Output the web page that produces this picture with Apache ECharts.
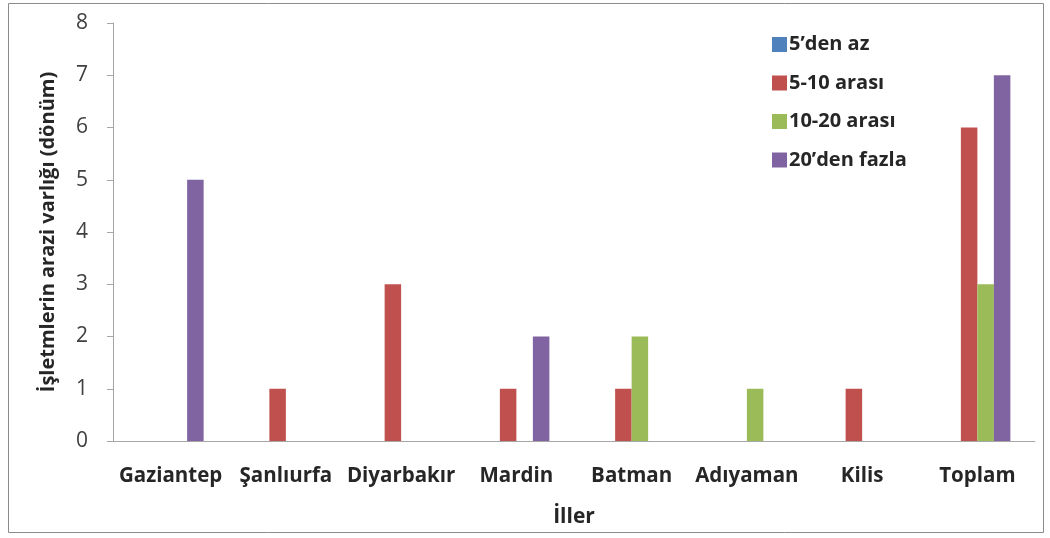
<!DOCTYPE html>
<html><head><meta charset="utf-8">
<script src="https://cdn.jsdelivr.net/npm/echarts@6/dist/echarts.min.js"></script>
<style>html,body{margin:0;padding:0;background:#fff}#c{width:1050px;height:538px}</style>
</head><body><div id="c"></div>
<script>
const categories = ['Gaziantep','Şanlıurfa','Diyarbakır','Mardin','Batman','Adıyaman','Kilis','Toplam'];
const seriesNames = ['5’den az','5-10 arası','10-20 arası','20’den fazla'];
const s1 = [0,0,0,0,0,0,0,0];
const s2 = [0,1,3,1,1,0,1,6];
const s3 = [0,0,0,0,2,1,0,3];
const s4 = [5,0,0,2,0,0,0,7];
const colors = ['#4F81BD','#C0504D','#9BBB59','#8064A2'];
const FONT = 'Open Sans';
const chart = echarts.init(document.getElementById('c'));
const data = [s1,s2,s3,s4];
chart.setOption({
  animation:false,
  textStyle:{fontFamily:FONT},
  graphic:[{type:'rect',shape:{x:8.5,y:3.5,width:1035,height:529},style:{fill:'none',stroke:'#8c8c8c',lineWidth:1}}],
  legend:{orient:'vertical',left:767,top:29,itemWidth:15,itemHeight:15,itemGap:17.5,icon:'rect',
    textStyle:{fontFamily:FONT,fontWeight:'bold',fontSize:20,lineHeight:21,color:'#262626',padding:[0,0,0,-3]},data:seriesNames},
  grid:{left:113,right:15,top:23,bottom:97},
  xAxis:{type:'category',data:categories,
    axisLine:{lineStyle:{color:'#a6a6a6'}},axisTick:{show:false},
    axisLabel:{interval:0,hideOverlap:false,fontFamily:FONT,fontWeight:'bold',fontSize:20.5,color:'#262626',margin:25},
    name:'İller',nameLocation:'middle',nameGap:66,nameTextStyle:{fontFamily:FONT,fontWeight:'bold',fontSize:21,color:'#262626'}},
  yAxis:{type:'value',min:0,max:8,interval:1,
    axisLine:{show:true,lineStyle:{color:'#a6a6a6'}},axisTick:{show:true,inside:false,length:6,lineStyle:{color:'#a6a6a6'}},
    splitLine:{show:false},
    axisLabel:{fontFamily:FONT,fontSize:21,color:'#404040',margin:25},
    name:'İşletmlerin arazi varlığı (dönüm)',nameLocation:'middle',nameGap:55,nameRotate:90,
    nameTextStyle:{fontFamily:FONT,fontWeight:'bold',fontSize:20,color:'#262626'}},
  series:seriesNames.map((n,i)=>({name:n,type:'bar',data:data[i],barWidth:16.5,barGap:'0%',
    itemStyle:{color:colors[i]}}))
});
</script></body></html>
